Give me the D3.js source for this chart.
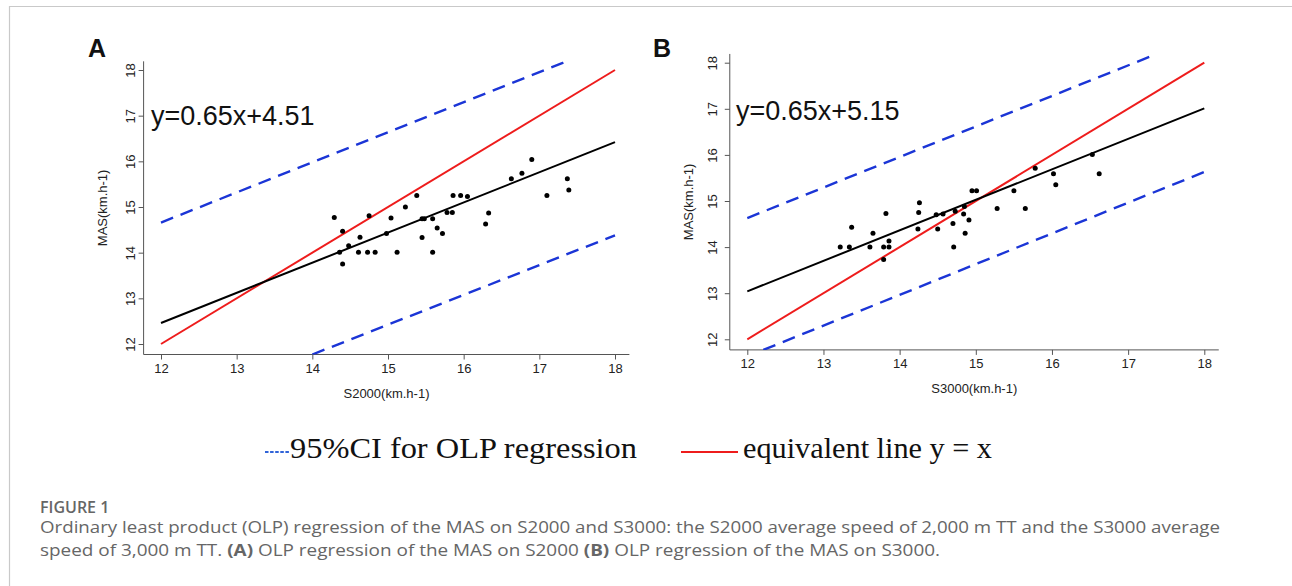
<!DOCTYPE html>
<html>
<head>
<meta charset="utf-8">
<script src="https://cdn.jsdelivr.net/npm/d3@7"></script>
<style>
  body { margin: 0; background: #fff; }
  svg { display: block; }
</style>
</head>
<body>
<div id="chart"></div>
<script>
// ---- data ----
const axisTicks = [12, 13, 14, 15, 16, 17, 18];

// panel A: MAS vs S2000
const s2000 = [14.29, 14.40, 14.36, 14.40, 14.48, 14.63, 14.61, 14.73, 14.75, 14.83,
               14.98, 15.04, 15.12, 15.23, 15.38, 15.45, 15.48, 15.45, 15.59, 15.59,
               15.65, 15.72, 15.78, 15.85, 15.86, 15.96, 16.05, 16.29, 16.33, 16.63,
               16.77, 16.90, 17.10, 17.37, 17.39];
const masA  = [14.77, 14.47, 14.01, 13.75, 14.15, 14.34, 14.01, 14.01, 14.81, 14.01,
               14.42, 14.76, 14.01, 15.00, 15.25, 14.74, 14.74, 14.33, 14.74, 14.01,
               14.54, 14.42, 14.88, 14.88, 15.25, 15.25, 15.23, 14.63, 14.87, 15.62,
               15.74, 16.04, 15.25, 15.62, 15.37];

// panel B: MAS vs S3000
const s3000 = [13.22, 13.34, 13.37, 13.61, 13.65, 13.79, 13.79, 13.86, 13.86, 13.82,
               14.24, 14.25, 14.26, 14.48, 14.50, 14.57, 14.70, 14.71, 14.73, 14.84,
               14.85, 14.86, 14.91, 14.95, 15.01, 15.28, 15.50, 15.65, 15.78, 16.02,
               16.05, 16.53, 16.62];
const masB  = [14.00, 14.00, 14.43, 14.00, 14.30, 14.00, 13.73, 14.13, 14.00, 14.73,
               14.39, 14.75, 14.96, 14.70, 14.39, 14.72, 14.51, 14.00, 14.78, 14.72,
               14.88, 14.30, 14.59, 15.22, 15.22, 14.84, 15.22, 14.84, 15.71, 15.59,
               15.35, 16.01, 15.59];

// fitted lines (end points as drawn)
const olpA      = [[12, 12.46], [18, 16.42]];
const ciUpperA  = [[12, 14.66], [17.36, 18.19]];
const ciLowerA  = [[14.0, 11.77], [18, 14.38]];
const olpB      = [[12, 13.04], [18, 17.01]];
const ciUpperB  = [[12, 14.63], [17.36, 18.18]];
const ciLowerB  = [[12.21, 11.77], [18, 15.63]];
const identity  = [[12, 12], [18, 18]];

const equationA = 'y=0.65x+4.51';
const equationB = 'y=0.65x+5.15';

const legendLabels = ['95%CI for OLP regression', 'equivalent line y = x'];
const captionTitle = 'FIGURE 1';

// ---- drawing ----
const W = 1292, H = 586;
const BLUE = '#1b35d6', RED = '#ee1c1c';
const sans = 'Liberation Sans, Arial, sans-serif';

const svg = d3.select('#chart').append('svg')
    .attr('width', W).attr('height', H);

// card border (top + left)
svg.append('line').attr('x1', 9).attr('x2', W).attr('y1', 6.5).attr('y2', 6.5)
    .attr('stroke', '#c9c9c9').attr('stroke-width', 1.2);
svg.append('line').attr('x1', 9.5).attr('x2', 9.5).attr('y1', 6).attr('y2', H)
    .attr('stroke', '#c9c9c9').attr('stroke-width', 1.2);

function drawPanel(cfg) {
    const x = d3.scaleLinear().domain([12, 18]).range(cfg.xRange);
    const y = d3.scaleLinear().domain([12, 18]).range(cfg.yRange);
    const lo = 11.77, hi = 18.19;
    const g = svg.append('g');

    // clip to plot region
    const clipId = 'clip-' + cfg.id;
    svg.append('clipPath').attr('id', clipId).append('rect')
        .attr('x', x(lo)).attr('y', y(hi))
        .attr('width', x(hi) - x(lo)).attr('height', y(lo) - y(hi));

    // L-shaped box
    g.append('path')
        .attr('d', `M${x(lo)},${y(hi)}V${y(lo)}H${x(hi)}`)
        .attr('fill', 'none').attr('stroke', '#555').attr('stroke-width', 1);

    // axes
    const fmt = d3.format('d');
    const xAxis = g.append('g').attr('transform', `translate(0,${y(lo)})`)
        .call(d3.axisBottom(x).tickValues(axisTicks).tickFormat(fmt).tickSize(5).tickPadding(4));
    const yAxis = g.append('g').attr('transform', `translate(${x(lo)},0)`)
        .call(d3.axisLeft(y).tickValues(axisTicks).tickFormat(fmt).tickSize(5).tickPadding(4));
    [xAxis, yAxis].forEach(ax => {
        ax.select('.domain').remove();
        ax.selectAll('line').attr('stroke', '#555');
        ax.selectAll('text').attr('fill', '#222').attr('font-size', '13px')
            .attr('font-family', sans);
    });
    // y tick labels parallel to axis (R style)
    yAxis.selectAll('.tick text')
        .attr('x', null).attr('dy', null)
        .attr('text-anchor', 'middle')
        .attr('transform', `translate(${-(x(lo) - cfg.yTickX)},0) rotate(-90)`)
        .attr('dy', '0.35em');

    // axis titles
    g.append('text')
        .attr('x', (x(lo) + x(hi)) / 2).attr('y', cfg.xTitleY)
        .attr('text-anchor', 'middle').attr('font-size', '13px')
        .attr('font-family', sans).attr('fill', '#222')
        .text(cfg.xTitle);
    g.append('text')
        .attr('transform', `translate(${cfg.yTitleX},${(y(lo) + y(hi)) / 2}) rotate(-90)`)
        .attr('text-anchor', 'middle').attr('font-size', '13px')
        .attr('font-family', sans).attr('fill', '#222')
        .text('MAS(km.h-1)');

    // panel letter
    g.append('text')
        .attr('x', cfg.letterX).attr('y', 57)
        .attr('font-size', '25px').attr('font-weight', 'bold')
        .attr('font-family', sans).attr('fill', '#111')
        .text(cfg.letter);

    // equation
    g.append('text')
        .attr('x', cfg.eqX).attr('y', cfg.eqY)
        .attr('font-size', '27px').attr('font-family', sans).attr('fill', '#111')
        .text(cfg.equation);

    const line = d3.line().x(d => x(d[0])).y(d => y(d[1]));
    const plot = g.append('g').attr('clip-path', `url(#${clipId})`);

    [cfg.ciUpper, cfg.ciLower].forEach(d => {
        plot.append('path').attr('d', line(d))
            .attr('fill', 'none').attr('stroke', BLUE)
            .attr('stroke-width', 2.4).attr('stroke-dasharray', '13,8');
    });
    plot.append('path').attr('d', line(identity))
        .attr('fill', 'none').attr('stroke', RED).attr('stroke-width', 2);
    plot.append('path').attr('d', line(cfg.olp))
        .attr('fill', 'none').attr('stroke', '#000').attr('stroke-width', 2);

    plot.selectAll('circle.pt')
        .data(d3.zip(cfg.xs, cfg.ys))
        .join('circle')
        .attr('class', 'pt')
        .attr('cx', d => x(d[0])).attr('cy', d => y(d[1]))
        .attr('r', 2.5).attr('fill', '#000');
}

drawPanel({
    id: 'a', letter: 'A', letterX: 88, xRange: [161, 615], yRange: [344, 70],
    xs: s2000, ys: masA, olp: olpA, ciUpper: ciUpperA, ciLower: ciLowerA,
    equation: equationA, eqX: 151, eqY: 124.5,
    xTitle: 'S2000(km.h-1)', xTitleY: 398, yTitleX: 107, yTickX: 130
});
drawPanel({
    id: 'b', letter: 'B', letterX: 653, xRange: [747.3, 1204.3], yRange: [339.3, 62.7],
    xs: s3000, ys: masB, olp: olpB, ciUpper: ciUpperB, ciLower: ciLowerB,
    equation: equationB, eqX: 736, eqY: 120.4,
    xTitle: 'S3000(km.h-1)', xTitleY: 393, yTitleX: 693, yTickX: 712
});

// ---- legend ----
const legend = svg.append('g').attr('font-family', 'Liberation Serif, Times New Roman, serif')
    .attr('font-size', '30px').attr('fill', '#111');
legend.append('line').attr('x1', 265).attr('x2', 290).attr('y1', 452).attr('y2', 452)
    .attr('stroke', '#2f63d8').attr('stroke-width', 2).attr('stroke-dasharray', '3.5,1.6');
legend.append('text').attr('x', 290).attr('y', 458)
    .attr('textLength', 347).attr('lengthAdjust', 'spacingAndGlyphs')
    .text(legendLabels[0]);
legend.append('line').attr('x1', 681).attr('x2', 738).attr('y1', 452).attr('y2', 452)
    .attr('stroke', RED).attr('stroke-width', 2);
legend.append('text').attr('x', 743).attr('y', 458)
    .attr('textLength', 249).attr('lengthAdjust', 'spacingAndGlyphs')
    .text(legendLabels[1]);

// ---- caption ----
const cap = svg.append('g').attr('font-family', 'Open Sans, Noto Sans, sans-serif')
    .attr('fill', '#666');
cap.append('text').attr('x', 40).attr('y', 513)
    .attr('font-size', '16px').attr('font-weight', 600)
    .text(captionTitle);
cap.append('text').attr('x', 40).attr('y', 533).attr('font-size', '15.5px')
    .attr('textLength', 1180).attr('lengthAdjust', 'spacingAndGlyphs')
    .text('Ordinary least product (OLP) regression of the MAS on S2000 and S3000: the S2000 average speed of 2,000 m TT and the S3000 average');
const line2 = cap.append('text').attr('x', 40).attr('y', 556).attr('font-size', '15.5px')
    .attr('textLength', 900).attr('lengthAdjust', 'spacingAndGlyphs');
line2.append('tspan').text('speed of 3,000 m TT. ');
line2.append('tspan').attr('font-weight', 700).text('(A)');
line2.append('tspan').text(' OLP regression of the MAS on S2000 ');
line2.append('tspan').attr('font-weight', 700).text('(B)');
line2.append('tspan').text(' OLP regression of the MAS on S3000.');
</script>
</body>
</html>
